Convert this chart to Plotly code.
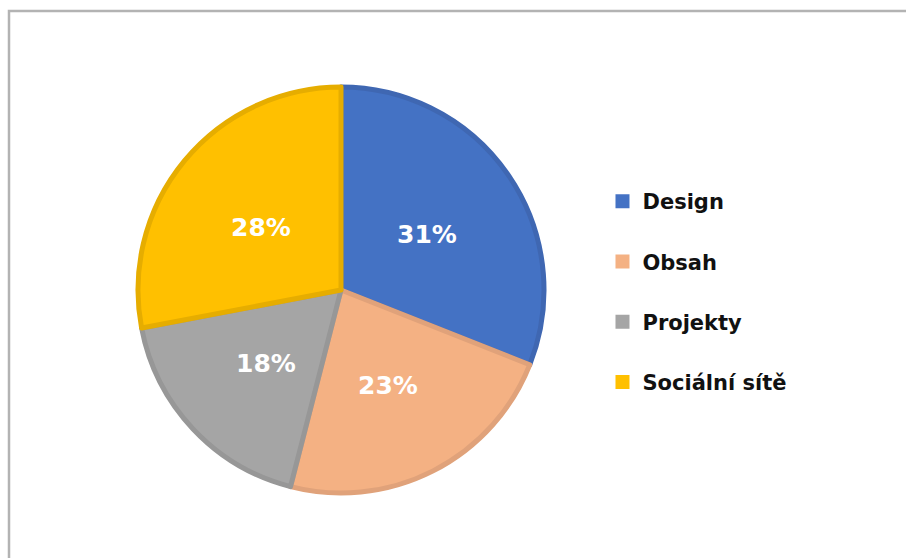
import math
import plotly.graph_objects as go

# Share of time by activity
categories = ["Design", "Obsah", "Projekty", "Sociální sítě"]
shares = [31, 23, 18, 28]
fill_colors = ["#4472C4", "#F4B183", "#A5A5A5", "#FFC000"]
edge_colors = ["#3F67B2", "#E0A27A", "#979797", "#E6AD00"]

W, H = 906, 558
cx, cy, r = 341, 290, 203
label_frac = 0.51  # radial position of the percentage labels

fig = go.Figure()

fig.add_trace(go.Pie(
    labels=categories,
    values=shares,
    sort=False,
    direction="clockwise",
    rotation=0,
    marker=dict(colors=fill_colors, line=dict(color=edge_colors, width=5)),
    textinfo="none",
    showlegend=False,
    hoverinfo="label+percent",
    domain=dict(x=[(cx - r) / W, (cx + r) / W],
                y=[(H - cy - r) / H, (H - cy + r) / H]),
))

# Percentage labels placed at each slice's mid-angle
total = sum(shares)
annotations = []
acc = 0
for v in shares:
    mid = (acc + v / 2) / total * 2 * math.pi
    acc += v
    px = cx + label_frac * r * math.sin(mid)
    py = cy - label_frac * r * math.cos(mid)
    annotations.append(dict(
        x=px / W, y=(H - py) / H, xref="paper", yref="paper",
        text=f"{round(v / total * 100)}%", showarrow=False,
        xanchor="center", yanchor="middle", yshift=-3,
        font=dict(family="DejaVu Sans", size=25, color="white", weight="bold"),
    ))

# Legend entries, one group per category so they can be spaced apart
for name, col in zip(categories, fill_colors):
    fig.add_trace(go.Scatter(
        x=[None], y=[None], mode="markers", name=name,
        legendgroup=name,
        marker=dict(symbol="square", size=14, color=col),
        hoverinfo="skip",
    ))

fig.update_layout(
    width=W, height=H,
    margin=dict(l=0, r=0, t=0, b=0),
    paper_bgcolor="white",
    plot_bgcolor="white",
    xaxis=dict(visible=False),
    yaxis=dict(visible=False),
    annotations=annotations,
    legend=dict(
        x=0.665, xanchor="left",
        y=(H - 292) / H, yanchor="middle",
        font=dict(family="DejaVu Sans", size=21, color="#111111", weight="bold"),
        tracegroupgap=30,
        itemwidth=30,
        bgcolor="rgba(0,0,0,0)",
    ),
    shapes=[dict(
        type="rect", xref="paper", yref="paper",
        x0=9 / W, x1=1.02, y0=-0.02, y1=(H - 11) / H,
        line=dict(color="#B3B3B3", width=2.5),
        fillcolor="rgba(0,0,0,0)", layer="below",
    )],
)

fig.write_html("out.html")
